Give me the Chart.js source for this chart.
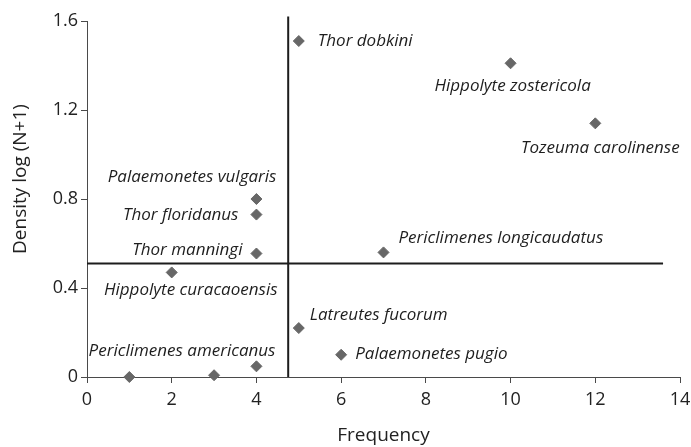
<!DOCTYPE html>
<html>
<head>
<meta charset="utf-8">
<script src="https://cdn.jsdelivr.net/npm/chart.js@4/dist/chart.umd.min.js"></script>
<style>
  html, body { margin: 0; padding: 0; background: #fff; }
  #wrap { width: 691px; height: 447px; position: relative; }
</style>
</head>
<body>
<div id="wrap"><canvas id="c" width="691" height="447"></canvas></div>
<script>
// ---- data ----
const species = [
  'Thor dobkini', 'Hippolyte zostericola', 'Tozeuma carolinense',
  'Palaemonetes vulgaris', 'Thor floridanus', 'Thor manningi',
  'Periclimenes longicaudatus', 'Hippolyte curacaoensis', 'Latreutes fucorum',
  'Palaemonetes pugio', 'Periclimenes americanus', '', ''
];
const frequency = [5, 10, 12, 4, 4, 4, 7, 2, 5, 6, 4, 1, 3];
const density   = [1.51, 1.41, 1.14, 0.80, 0.73, 0.555, 0.56, 0.47, 0.22, 0.10, 0.048, 0.0, 0.008];

const xTicks = [0, 2, 4, 6, 8, 10, 12, 14];
const yTicks = [0, 0.4, 0.8, 1.2, 1.6];

const xTitle = 'Frequency';
const yTitle = 'Density log (N+1)';

// reference (quadrant) lines
const vLineX = [4.75, 4.75];
const vLineY = [0, 1.62];
const hLineX = [0, 13.6];
const hLineY = [0.51, 0.51];

// ---- label placement (style only) ----
const labelPlacement = {
  'Thor dobkini':               { align: 'left',   dx: 19,  dy: 0 },
  'Hippolyte zostericola':      { align: 'center', dx: 2,   dy: 23 },
  'Tozeuma carolinense':        { align: 'center', dx: 5,   dy: 25 },
  'Palaemonetes vulgaris':      { align: 'right',  dx: 20,  dy: -22 },
  'Thor floridanus':            { align: 'right',  dx: -18, dy: 1 },
  'Thor manningi':              { align: 'right',  dx: -14, dy: -3 },
  'Periclimenes longicaudatus': { align: 'left',   dx: 15,  dy: -14 },
  'Hippolyte curacaoensis':     { align: 'center', dx: 19,  dy: 18 },
  'Latreutes fucorum':          { align: 'left',   dx: 11,  dy: -13 },
  'Palaemonetes pugio':         { align: 'left',   dx: 14,  dy: -1 },
  'Periclimenes americanus':    { align: 'right',  dx: 19,  dy: -15 }
};

const FONT = "'Open Sans', 'Noto Sans', sans-serif";

const labelPlugin = {
  id: 'speciesLabels',
  afterDatasetsDraw(chart) {
    const ctx = chart.ctx;
    const xs = chart.scales.x, ys = chart.scales.y;
    ctx.save();
    ctx.font = "italic 17px " + FONT;
    ctx.fillStyle = '#1e1e1e';
    ctx.textBaseline = 'middle';
    species.forEach((name, i) => {
      if (!name) return;
      const p = labelPlacement[name];
      const px = xs.getPixelForValue(frequency[i]);
      const py = ys.getPixelForValue(density[i]);
      ctx.textAlign = p.align;
      ctx.fillText(name, px + p.dx, py + p.dy);
    });
    // y axis title (placed slightly above the axis centre as in the reference)
    ctx.font = "19px " + FONT;
    ctx.fillStyle = '#222';
    ctx.textAlign = 'center';
    ctx.textBaseline = 'alphabetic';
    ctx.translate(26, 179);
    ctx.rotate(-Math.PI / 2);
    ctx.fillText(yTitle, 0, 0);
    ctx.restore();
  }
};

const points = frequency.map((f, i) => ({ x: f, y: density[i] }));

new Chart(document.getElementById('c'), {
  type: 'scatter',
  data: {
    datasets: [
      {
        data: points,
        pointStyle: 'rectRot',
        pointRadius: 5.5,
        pointHoverRadius: 5.5,
        backgroundColor: '#676767',
        borderColor: '#676767',
        borderWidth: 1,
        clip: false,
        order: 1
      },
      {
        type: 'line',
        data: vLineX.map((x, i) => ({ x, y: vLineY[i] })),
        borderColor: '#1c1c1c',
        borderWidth: 2,
        pointRadius: 0,
        clip: false,
        order: 2
      },
      {
        type: 'line',
        data: hLineX.map((x, i) => ({ x, y: hLineY[i] })),
        borderColor: '#1c1c1c',
        borderWidth: 2,
        pointRadius: 0,
        clip: false,
        order: 2
      }
    ]
  },
  options: {
    responsive: false,
    animation: false,
    events: [],
    layout: { padding: { left: 0, right: 11, top: 21, bottom: 0 } },
    plugins: { legend: { display: false }, tooltip: { enabled: false } },
    scales: {
      x: {
        type: 'linear',
        min: 0, max: 14,
        afterBuildTicks: s => { s.ticks = xTicks.map(v => ({ value: v })); },
        afterFit: s => { s.height = 70; s.paddingLeft = 0; s.paddingRight = 0; },
        border: { display: true, color: '#4a4a4a', width: 1 },
        grid: { display: true, drawOnChartArea: false, drawTicks: true, tickLength: 6, color: '#4a4a4a' },
        ticks: { color: '#222', font: { family: FONT, size: 18 }, padding: 6, maxRotation: 0 },
        title: { display: true, text: xTitle, color: '#222', font: { family: FONT, size: 19 }, padding: { top: 0, bottom: 0 } }
      },
      y: {
        type: 'linear',
        min: 0, max: 1.6,
        afterBuildTicks: s => { s.ticks = yTicks.map(v => ({ value: v })); },
        afterFit: s => { s.width = 87; s.paddingTop = 0; s.paddingBottom = 0; },
        border: { display: true, color: '#4a4a4a', width: 1 },
        grid: { display: true, drawOnChartArea: false, drawTicks: true, tickLength: 6, color: '#4a4a4a' },
        ticks: { color: '#222', font: { family: FONT, size: 18 }, padding: 3, callback: v => String(v) },
        title: { display: false }
      }
    }
  },
  plugins: [labelPlugin]
});
</script>
</body>
</html>
